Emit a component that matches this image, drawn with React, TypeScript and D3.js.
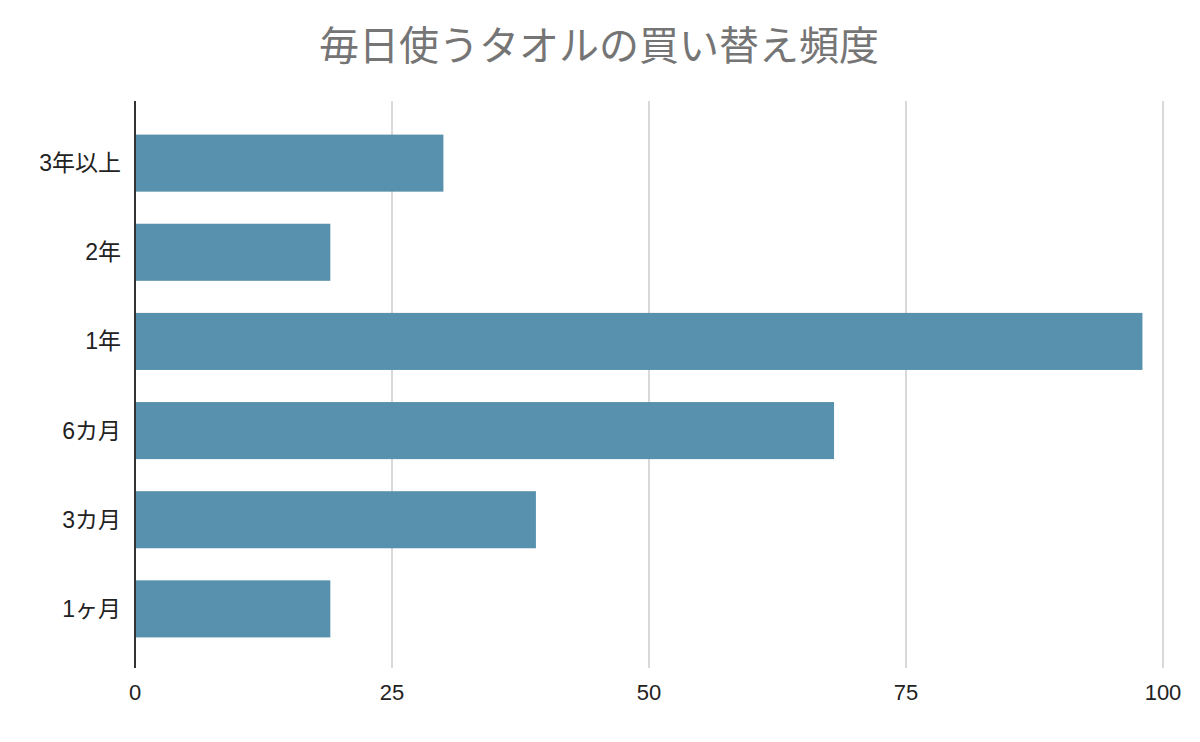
import React, { useEffect, useRef } from 'react';
import * as d3 from 'd3';

const categories = ['3年以上', '2年', '1年', '6カ月', '3カ月', '1ヶ月'];
const values = [30, 19, 98, 68, 39, 19];
const xTicks = [0, 25, 50, 75, 100];

const width = 1200;
const height = 742;
const left = 135;
const right = 1163;
const top = 101;
const bottom = 668;
const fontFamily = 'Arial, "Liberation Sans", "Noto Sans CJK JP", sans-serif';

const App: React.FC = () => {
  const ref = useRef<SVGSVGElement>(null);

  useEffect(() => {
    document.body.style.margin = '0';
    const svg = d3.select(ref.current);
    svg.selectAll('*').remove();

    const x = d3.scaleLinear().domain([0, 100]).range([left, right]);
    const y = d3.scaleBand<string>()
      .domain(categories)
      .range([top + 1.5, bottom + 1.5])
      .paddingInner(0.36)
      .paddingOuter(0.36);

    svg.append('rect').attr('width', width).attr('height', height).attr('fill', '#fff');

    // title
    svg.append('text')
      .attr('x', 599)
      .attr('y', 60)
      .attr('text-anchor', 'middle')
      .attr('fill', '#757575')
      .style('font-family', fontFamily)
      .style('font-size', '40px')
      .text('毎日使うタオルの買い替え頻度');

    // grid lines
    svg.selectAll('.grid')
      .data(xTicks.filter(t => t !== 0))
      .enter().append('line')
      .attr('x1', d => x(d))
      .attr('x2', d => x(d))
      .attr('y1', top)
      .attr('y2', bottom)
      .attr('stroke', '#cccccc')
      .attr('stroke-width', 1.5);

    // bars
    svg.selectAll('.bar')
      .data(categories)
      .enter().append('rect')
      .attr('x', x(0))
      .attr('y', d => y(d)!)
      .attr('width', (d, i) => x(values[i]) - x(0))
      .attr('height', y.bandwidth())
      .attr('fill', '#5891ad');

    // baseline axis
    svg.append('line')
      .attr('x1', x(0))
      .attr('x2', x(0))
      .attr('y1', top)
      .attr('y2', bottom)
      .attr('stroke', '#333')
      .attr('stroke-width', 2);

    // y labels
    svg.selectAll('.ylab')
      .data(categories)
      .enter().append('text')
      .attr('x', 121)
      .attr('y', d => y(d)! + y.bandwidth() / 2)
      .attr('dy', '0.35em')
      .attr('text-anchor', 'end')
      .attr('fill', '#222')
      .style('font-family', fontFamily)
      .style('font-size', '23px')
      .text(d => d);

    // x labels
    svg.selectAll('.xlab')
      .data(xTicks)
      .enter().append('text')
      .attr('x', d => x(d))
      .attr('y', 700)
      .attr('text-anchor', 'middle')
      .attr('fill', '#222')
      .style('font-family', fontFamily)
      .style('font-size', '22px')
      .text(d => String(d));
  }, []);

  return <svg ref={ref} width={width} height={height} style={{ display: 'block' }}></svg>;
};

export default App;
